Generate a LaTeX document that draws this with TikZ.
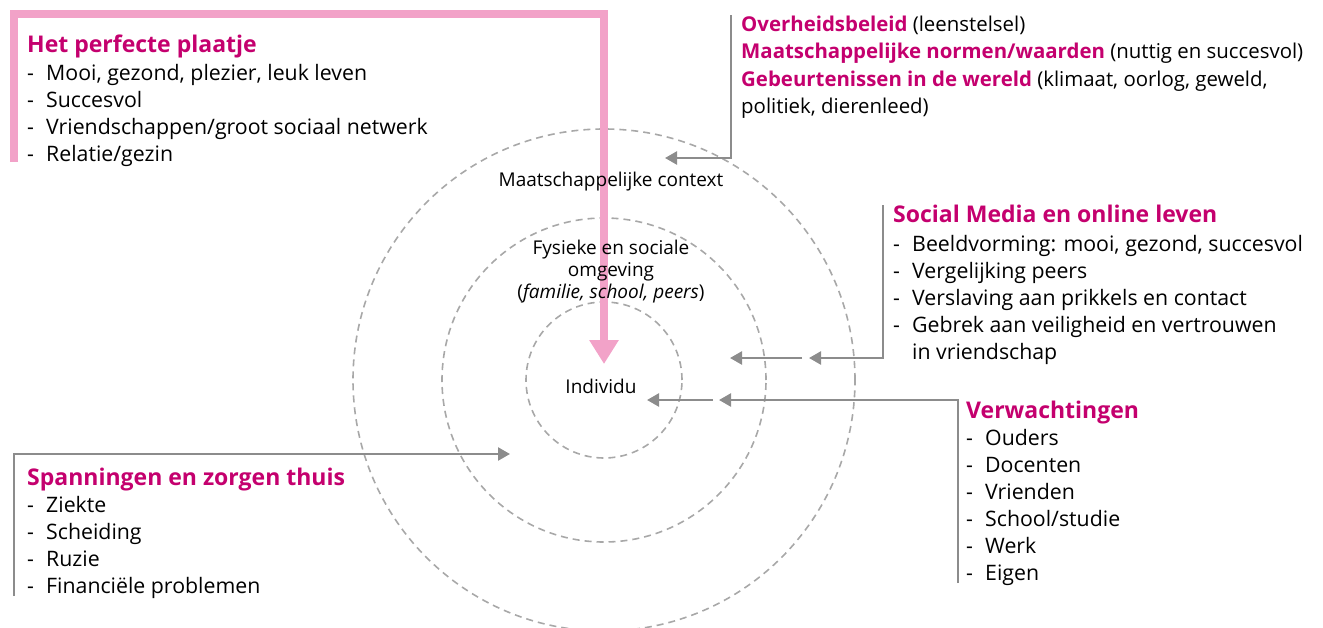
\documentclass[tikz,border=0pt]{standalone}
\usepackage{fontspec}
\setmainfont{Open Sans}
\usetikzlibrary{arrows.meta}
\definecolor{mag}{HTML}{C4006E}
\definecolor{pinkline}{HTML}{F2A2C8}
\definecolor{arrgray}{HTML}{8C8C8C}
\definecolor{circgray}{HTML}{A8A8A8}
\newcommand\mhead[1]{{\bfseries\color{mag}#1}}
\newcommand\litem[1]{\makebox[19pt][l]{-}#1}
\tikzset{
  circ/.style={draw=circgray, line width=1.6pt, dash pattern=on 7pt off 5pt},
  conn/.style={draw=arrgray, line width=2.4pt, -{Triangle[length=12pt,width=13pt]}},
  bigarrow/.style={draw=pinkline, line width=8pt, line join=miter, -{Triangle[length=24pt,width=28pt]}},
  txt/.style={font=\fontsize{21.3}{27}\selectfont, align=left, inner sep=0pt, text=black},
  txtsm/.style={font=\fontsize{20.4}{27.2}\selectfont, align=left, inner sep=0pt, text=black},
  lbl/.style={font=\fontsize{19}{22}\selectfont, align=center, inner sep=0pt, text=black},
  hd/.style={font=\fontsize{23}{27}\selectfont\bfseries, text=mag, inner sep=0pt}
}
\begin{document}
\begin{tikzpicture}[x=1pt,y=-1pt]
\useasboundingbox (0,0) rectangle (1323,627);
% circles
\draw[circ] (604,380) circle[radius=78pt];
\draw[circ] (604,380) circle[radius=162pt];
\draw[circ] (604,380) circle[radius=251pt];
% pink arrow
\coordinate (pinkstart) at (14,162);
\coordinate (pinkcorner) at (604,14);
\coordinate (pinktip) at (604,364);
\draw[bigarrow] (pinkstart) |- (pinkcorner) -- (pinktip);
% circle labels
\node[lbl] (ctx) at (611,182) {Maatschappelijke context};
\node[lbl] (omg) at (611,272) {Fysieke en sociale\\omgeving\\(\textit{familie, school, peers})};
\node[lbl] (ind) at (601,386) {Individu};
% text blocks
\node[hd, anchor=north west] (perfh) at (27,35) {Het perfecte plaatje};
\node[txt, anchor=north west] (perf) at (27,64) {\litem{Mooi, gezond, plezier, leuk leven}\\ \litem{Succesvol}\\ \litem{Vriendschappen/groot sociaal netwerk}\\ \litem{Relatie/gezin}};
\node[txtsm, anchor=north west] (beleid) at (741,16) {\mhead{Overheidsbeleid} (leenstelsel)\\ \mhead{Maatschappelijke normen/waarden} (nuttig en succesvol)\\ \mhead{Gebeurtenissen in de wereld} (klimaat, oorlog, geweld,\\ politiek, dierenleed)};
\node[hd, anchor=north west] (smh) at (893,205) {Social Media en online leven};
\node[txt, anchor=north west] (sm) at (893,235) {\litem{Beeldvorming: mooi, gezond, succesvol}\\ \litem{Vergelijking peers}\\ \litem{Verslaving aan prikkels en contact}\\ \litem{Gebrek aan veiligheid en vertrouwen}\\ \hspace*{19pt}in vriendschap};
\node[hd, anchor=north west] (verh) at (966,401) {Verwachtingen};
\node[txt, anchor=north west] (ver) at (966,429) {\litem{Ouders}\\ \litem{Docenten}\\ \litem{Vrienden}\\ \litem{School/studie}\\ \litem{Werk}\\ \litem{Eigen}};
\node[hd, anchor=north west] (spah) at (27,468) {Spanningen en zorgen thuis};
\node[txt, anchor=north west] (spa) at (27,496) {\litem{Ziekte}\\ \litem{Scheiding}\\ \litem{Ruzie}\\ \litem{Financiële problemen}};
% gray connectors
\coordinate (b0) at (731,15);
\coordinate (b1) at (665,158);
\draw[conn] (b0) |- (b1);
\coordinate (s0) at (883,205);
\coordinate (s1) at (809,358);
\coordinate (s2) at (802,358);
\coordinate (s3) at (730,358);
\draw[conn] (s0) |- (s1);
\draw[conn] (s2) -- (s3);
\coordinate (v0) at (958,583);
\coordinate (v1) at (719,400);
\coordinate (v2) at (713,400);
\coordinate (v3) at (647,400);
\draw[conn] (v0) |- (v1);
\draw[conn] (v2) -- (v3);
\coordinate (t0) at (14,596);
\coordinate (t1) at (510,454);
\draw[conn] (t0) |- (t1);
\end{tikzpicture}
\end{document}
